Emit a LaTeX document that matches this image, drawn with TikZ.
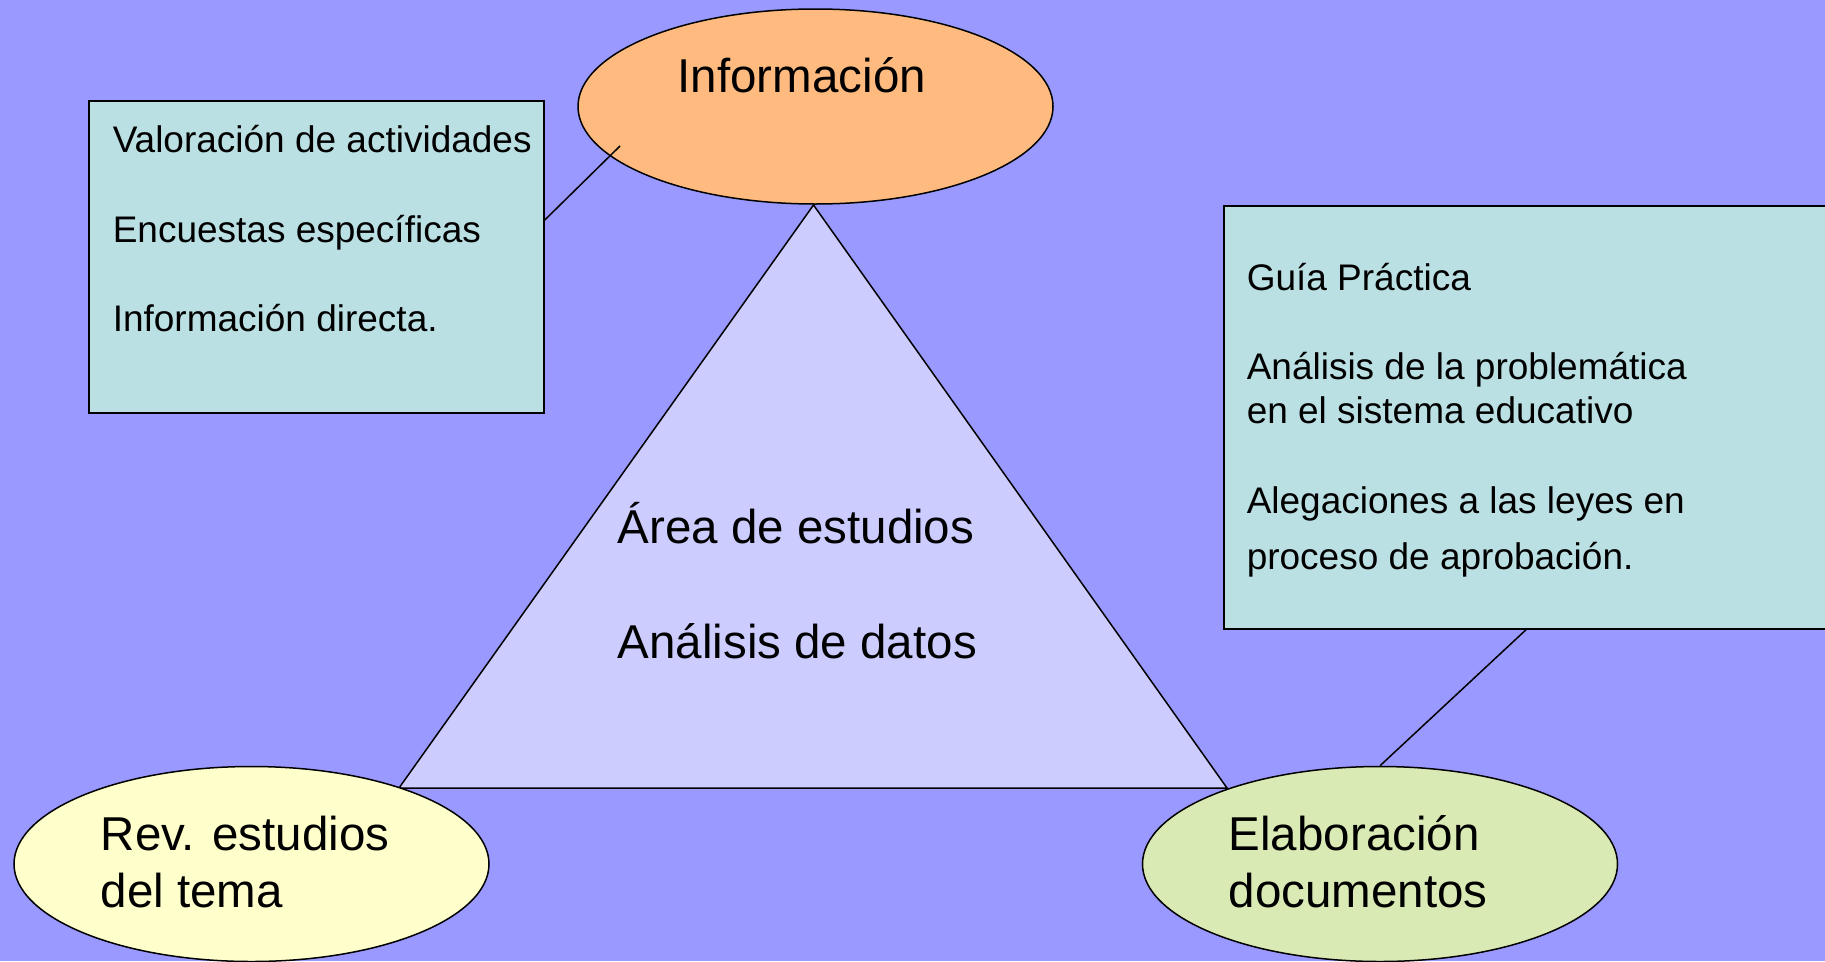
\documentclass[tikz,border=0pt]{standalone}
\usepackage{fontspec}
\setmainfont{Liberation Sans}
\usetikzlibrary{shapes.geometric}
\definecolor{bg}{HTML}{9999FF}
\definecolor{tri}{HTML}{CCCCFF}
\definecolor{boxc}{HTML}{BBE0E3}
\definecolor{orng}{HTML}{FFBB7F}
\definecolor{yel}{HTML}{FFFFCC}
\definecolor{grn}{HTML}{D9EAB4}
\begin{document}
\begin{tikzpicture}[x=1pt,y=-1pt,line width=1.5pt,
  oval/.style={ellipse,draw=black,inner sep=0pt,minimum width=475pt,minimum height=195pt},
  infobox/.style={rectangle,draw=black,fill=boxc,inner sep=0pt},
  big/.style={anchor=base west,inner sep=0pt,font=\fontsize{47.5}{57}\selectfont},
  small/.style={anchor=base west,inner sep=0pt,font=\fontsize{37}{44}\selectfont},
  link/.style={draw=black,line width=1.5pt}]
\fill[bg] (0,0) rectangle (1825,961);
\useasboundingbox (0,0) rectangle (1825,961);

% triangle
\coordinate (apex) at (813.5,205);
\coordinate (bl) at (399,788);
\coordinate (br) at (1227,788);
\draw[fill=tri] (apex) -- (bl) -- (br) -- cycle;

% ellipses
\node[oval,fill=orng] (info) at (815.5,106.5) {};
\node[oval,fill=yel] (rev) at (251.5,864) {};
\node[oval,fill=grn] (elab) at (1380,864) {};

% boxes
\node[infobox,minimum width=455pt,minimum height=312pt] (lbox) at (316.5,257) {};
\node[infobox,minimum width=611pt,minimum height=423pt] (rbox) at (1529.5,417.5) {};

% connectors
\coordinate (infoin) at (620,146);
\draw[link] (lbox.east |- 0,220) -- (infoin);
\draw[link] (rbox.south -| 1526,0) -- (elab.north);

% texts
\node[big] (tinfo) at (677,92) {Información};
\node[big] (trev1) at (100,850) {Rev. estudios};
\node[big] (trev2) at (100,907) {del tema};
\node[big] (telab1) at (1228,850) {Elaboración};
\node[big] (telab2) at (1228,907) {documentos};
\node[big] (tarea) at (617,543) {Área de estudios};
\node[big] (tanal) at (617,658) {Análisis de datos};

\node[small] (l1) at (112,152) {Valoración de actividades};
\node[small] (l2) at (112,242) {Encuestas específicas};
\node[small] (l3) at (112,331) {Información directa.};

\node[small] (r1) at (1246,290) {Guía Práctica};
\node[small] (r2) at (1246,379) {Análisis de la problemática};
\node[small] (r3) at (1246,423) {en el sistema educativo};
\node[small] (r4) at (1246,513) {Alegaciones a las leyes en};
\node[small] (r5) at (1246,569) {proceso de aprobación.};
\end{tikzpicture}
\end{document}
